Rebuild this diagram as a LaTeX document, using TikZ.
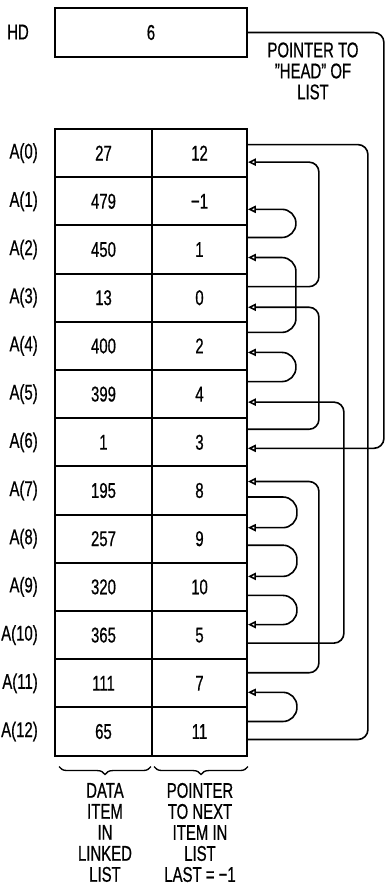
\documentclass[tikz,border=0pt]{standalone}
\usepackage{fontspec}
\setmainfont{Liberation Sans}[FakeStretch=0.7,FakeBold=0.6]
\usetikzlibrary{arrows.meta,calc,decorations.pathreplacing}

\begin{document}
\begin{tikzpicture}[x=0.75pt,y=-0.75pt,
  every node/.style={font=\fontsize{16}{15.75}\selectfont},
  cell/.style={draw,line width=1.4pt,inner sep=0pt,minimum height=36.15pt},
  datacell/.style={cell,minimum width=72.75pt},
  ptrcell/.style={cell,minimum width=71.25pt},
  wire/.style={line width=1.2pt,rounded corners=7.5pt},
  link/.style={wire,-{Triangle[open,length=6pt,width=5.5pt]}},
  brc/.style={line width=1pt,decorate,decoration={brace,mirror,amplitude=6pt}}]
\useasboundingbox (0,0) rectangle (385,886);
\node (hdlab) at (18,32) {HD};
\node[cell,minimum width=144pt,minimum height=36.75pt] (hd) at (151,32.5) {6};
\node[align=center] (hdnote) at (313,71) {POINTER TO\\"HEAD" OF\\LIST};
\foreach \i/\d/\p in {0/27/12,1/479/−1,2/450/1,3/13/0,4/400/2,5/399/4,6/1/3,
    7/195/8,8/257/9,9/320/10,10/365/5,11/111/7,12/65/11} {
  \node[datacell] (d\i) at (103.5,153.1+48.2*\i) {\d};
  \node[ptrcell] (p\i) at (199.5,153.1+48.2*\i) {\p};
  \node[anchor=east,inner sep=0pt] (a\i) at (38,153.1+48.2*\i) {A(\i)};
}
\foreach \s/\so/\t/\ti/\w/\r in {2/.26/1/.66/48/10.5,3/.28/0/.68/71/7.5,
    4/.23/2/.66/48/10.5,5/.25/4/.63/48/10.5,6/.24/3/.69/71/7.5,
    7/.63/8/.28/49/10.5,8/.63/9/.29/49/10.5,9/.67/10/.29/49/10.5,
    10/.66/5/.66/96/7.5,11/.29/7/.32/71/7.5,12/.30/11/.68/49/10.5}
  \draw[link,rounded corners=\r pt] ($(p\s.north east)!\so!(p\s.south east)$)
    -- ++(\w,0) |- ($(p\t.north east)!\ti!(p\t.south east)$);
\draw[wire] ($(p0.north east)!.33!(p0.south east)$) -- ++(120,0)
  |- ($(p12.north east)!.66!(p12.south east)$);
\draw[link] (hd.east) -- ++(136,0) |- ($(p6.north east)!.62!(p6.south east)$);
\draw[brc] ([shift={(5,10)}]d12.south west) -- ([shift={(-2,10)}]d12.south east);
\draw[brc] ([shift={(3,10)}]p12.south west) -- ([shift={(0,10)}]p12.south east);
\node[align=center] (dnote) at (105,832.5) {DATA\\ITEM\\IN\\LINKED\\LIST};
\node[align=center] (pnote) at (200,832.5) {POINTER\\TO NEXT\\ITEM IN\\LIST\\LAST = −1};
\end{tikzpicture}
\end{document}
